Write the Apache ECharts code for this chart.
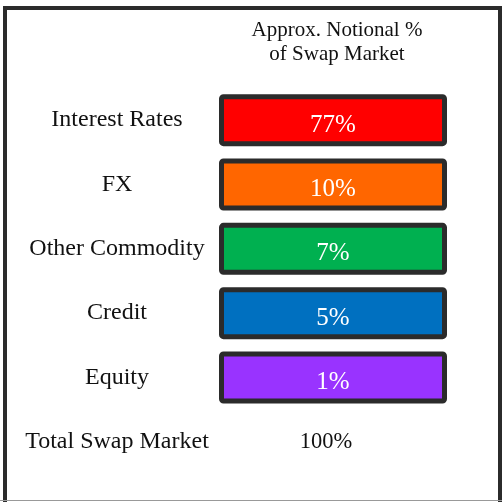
<!DOCTYPE html>
<html>
<head>
<meta charset="utf-8">
<script src="https://cdn.jsdelivr.net/npm/echarts@6/dist/echarts.min.js"></script>
<style>
  html, body { margin: 0; padding: 0; background: #fff; }
  #chart { width: 502px; height: 502px; }
</style>
</head>
<body>
<div id="chart"></div>
<script>
  // categories and their share of swap market notional (%)
  var categories = ['Interest Rates', 'FX', 'Other Commodity', 'Credit', 'Equity', 'Total Swap Market'];
  var shares = [77, 10, 7, 5, 1, 100];
  var colors = ['#ff0000', '#ff6600', '#00b050', '#0070c0', '#9933ff', 'transparent'];
  var boxFull = 100; // every box is drawn at full width

  var serif = '"Liberation Serif", "DejaVu Serif", serif';
  var chart = echarts.init(document.getElementById('chart'));

  var seriesData = shares.map(function (v, i) {
    var isTotal = i === categories.length - 1;
    return {
      value: boxFull,
      share: v,
      itemStyle: isTotal ? { color: 'transparent', borderWidth: 0 } : { color: colors[i] },
      label: isTotal ? { color: '#111', fontSize: 22.5, offset: [-7, 0] } : {}
    };
  });

  chart.setOption({
    animation: false,
    title: {
      text: 'Approx. Notional %\nof Swap Market',
      left: 332,
      top: 13,
      textAlign: 'center',
      textStyle: { fontFamily: serif, fontSize: 21, fontWeight: 'normal', color: '#111', lineHeight: 24 }
    },
    grid: { left: 219, right: 55, top: 88, bottom: 28 },
    xAxis: {
      type: 'value', min: 0, max: 100, show: false
    },
    yAxis: {
      type: 'category',
      inverse: true,
      data: categories,
      axisLine: { show: false },
      axisTick: { show: false },
      splitLine: { show: false },
      axisLabel: {
        align: 'center',
        margin: 102,
        fontFamily: serif,
        fontSize: 24,
        color: '#111'
      }
    },
    graphic: [
      {
        type: 'rect',
        shape: { x: 5, y: 8, width: 495, height: 500 },
        style: { fill: 'none', stroke: '#2b2b2b', lineWidth: 4 }
      },
      {
        type: 'line',
        shape: { x1: 0, y1: 500.5, x2: 502, y2: 500.5 },
        style: { stroke: '#999', lineWidth: 1 }
      }
    ],
    series: [{
      type: 'bar',
      barWidth: 52,
      data: seriesData,
      itemStyle: { borderColor: '#2b2b2b', borderWidth: 5, borderRadius: 2 },
      label: {
        show: true,
        position: 'inside',
        offset: [0, 5],
        fontFamily: serif,
        fontSize: 25,
        color: '#fff',
        formatter: function (p) { return p.data.share + '%'; }
      }
    }]
  });
</script>
</body>
</html>
